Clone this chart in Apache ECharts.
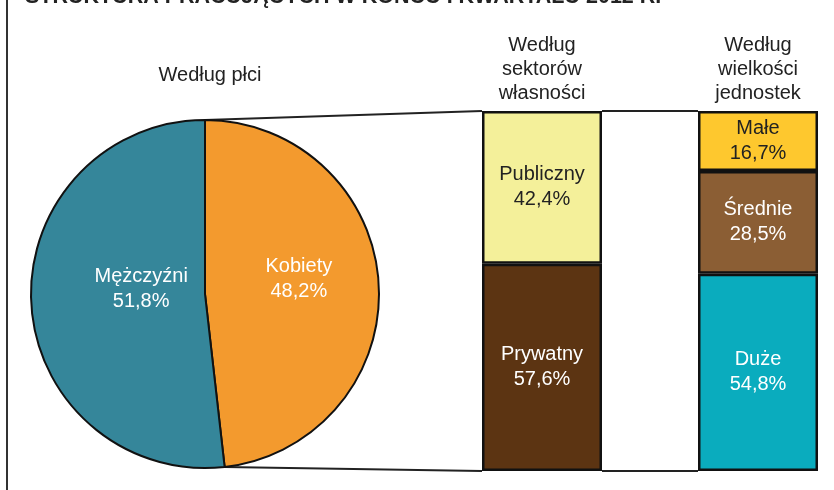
<!DOCTYPE html>
<html>
<head>
<meta charset="utf-8">
<script src="https://cdn.jsdelivr.net/npm/echarts@6/dist/echarts.min.js"></script>
<style>
  html, body { margin:0; padding:0; background:#fff; }
  #myChart { width:834px; height:490px; }
</style>
</head>
<body>
<div id="myChart"></div>
<script>
// dane
var pieNames = ['Kobiety', 'Mężczyźni'];
var pieValues = [48.2, 51.8];
var pieColors = ['#f39a2e', '#35869a'];
var pieLabelOffset = [[4, -10], [26, -10]];

var sectorNames = ['Prywatny', 'Publiczny'];
var sectorValues = [57.6, 42.4];
var sectorColors = ['#5c3412', '#f4f09a'];
var sectorText = ['#fff', '#222'];

var sizeNames = ['Duże', 'Średnie', 'Małe'];
var sizeValues = [54.8, 28.5, 16.7];
var sizeColors = ['#0aacbe', '#8b5e34', '#fec82e'];
var sizeText = ['#fff', '#fff', '#222'];

var headers = ['Według płci', 'Według\nsektorów\nwłasności', 'Według\nwielkości\njednostek'];
var mainTitle = 'STRUKTURA PRACUJĄCYCH W KOŃCU I KWARTAŁU 2012 R.';

var FONT = 'Liberation Sans, Arial, sans-serif';
var FS = 20;
var pieCx = 205, pieCy = 294, pieR = 174;

function pct(v){ return v.toFixed(1).replace('.', ',') + '%'; }

var myChart = echarts.init(document.getElementById('myChart'));

function stackSeries(names, values, colors, textColors, idx){
  return names.map(function(n, i){
    return {
      type:'bar', name:n, stack:'s' + idx,
      xAxisIndex:idx, yAxisIndex:idx,
      barWidth:'100%',
      data:[values[i]],
      itemStyle:{ color:colors[i], borderColor:'#111', borderWidth:2.5 },
      label:{
        show:true, position:'inside',
        formatter: n + '\n' + pct(values[i]),
        color:textColors[i], fontSize:FS, lineHeight:25, fontFamily:FONT
      },
      silent:true
    };
  });
}

var option = {
  animation:false,
  title:{
    text: mainTitle, left:20, top:-19,
    textStyle:{ fontSize:21.5, fontWeight:'bold', color:'#222', fontFamily:FONT }
  },
  grid:[
    { left:482, width:120, top:111, bottom:19 },
    { left:698, width:120, top:111, bottom:19 }
  ],
  xAxis:[
    { gridIndex:0, type:'category', data:['a'], show:false },
    { gridIndex:1, type:'category', data:['b'], show:false }
  ],
  yAxis:[
    { gridIndex:0, type:'value', min:0, max:100, show:false },
    { gridIndex:1, type:'value', min:0, max:100, show:false }
  ],
  series:[
    {
      type:'pie', center:[pieCx, pieCy], radius:pieR,
      startAngle:90, clockwise:true, silent:true,
      data: pieNames.map(function(n, i){
        return { name:n, value:pieValues[i], itemStyle:{ color:pieColors[i] },
                 label:{ offset:pieLabelOffset[i] } };
      }),
      itemStyle:{ borderColor:'#111', borderWidth:2 },
      label:{
        show:true, position:'inner',
        formatter:function(p){ return p.name + '\n' + pct(p.value); },
        color:'#fff', fontSize:FS, lineHeight:25, fontFamily:FONT
      },
      labelLine:{ show:false }
    }
  ].concat(stackSeries(sectorNames, sectorValues, sectorColors, sectorText, 0))
   .concat(stackSeries(sizeNames, sizeValues, sizeColors, sizeText, 1))
};
myChart.setOption(option);

// linie laczace i naglowki
var total = pieValues[0] + pieValues[1];
var a = pieValues[0] / total * Math.PI * 2;
var pTop = [pieCx, pieCy - pieR];
var pBot = [pieCx + pieR * Math.sin(a), pieCy - pieR * Math.cos(a)];

var m0 = myChart.convertToPixel({gridIndex:0}, ['a', 100]);
var m1 = myChart.convertToPixel({gridIndex:0}, ['a', 0]);
var r0 = myChart.convertToPixel({gridIndex:1}, ['b', 100]);
var r1 = myChart.convertToPixel({gridIndex:1}, ['b', 0]);
var half = 60;

var ls = { stroke:'#222', lineWidth:2 };
function seg(x1, y1, x2, y2){
  return { type:'line', shape:{x1:x1, y1:y1, x2:x2, y2:y2}, style:ls, z:-1 };
}
function head(txt, x, y){
  return { type:'text', x:x, y:y, style:{
    text:txt, fill:'#222', font:FS + 'px ' + FONT, align:'center', verticalAlign:'top', lineHeight:24
  }};
}

myChart.setOption({
  graphic:[
    { type:'rect', shape:{x:6, y:0, width:2, height:490}, style:{fill:'#333'} },
    seg(pTop[0], pTop[1], m0[0] - half, m0[1]),
    seg(pBot[0], pBot[1], m1[0] - half, m1[1]),
    seg(m0[0] + half, m0[1], r0[0] - half, r0[1]),
    seg(m1[0] + half, m1[1], r1[0] - half, r1[1]),
    head(headers[0], 210, 63),
    head(headers[1], m0[0], 33),
    head(headers[2], r0[0], 33)
  ]
});
</script>
</body>
</html>
